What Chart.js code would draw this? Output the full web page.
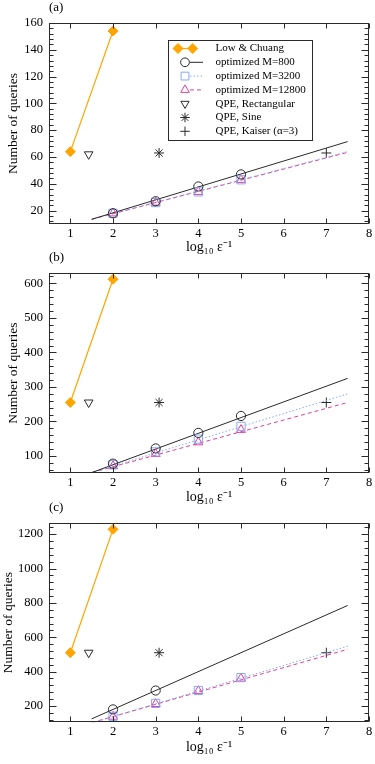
<!DOCTYPE html>
<html lang="en">
<head>
  <meta charset="UTF-8">
  <meta name="viewport" content="width=device-width, initial-scale=1.0">
  <title>Number of queries vs log10 1/eps</title>
  <script src="https://cdn.jsdelivr.net/npm/chart.js@4.4.0/dist/chart.umd.min.js"></script>
  <style>
    body { margin: 0; background: #fff; }
    #page { position: relative; width: 375px; height: 764px; overflow: hidden; }
    .panel { position: absolute; left: 0; width: 375px; height: 258px; }
  </style>
</head>
<body>
  <div id="page">
    <div class="panel" style="top:0"><canvas id="chartA" width="375" height="258"></canvas></div>
    <div class="panel" style="top:250px"><canvas id="chartB" width="375" height="258"></canvas></div>
    <div class="panel" style="top:500px"><canvas id="chartC" width="375" height="258"></canvas></div>
  </div>

  <script>
    const serif = '"Liberation Serif", "Times New Roman", serif';

    // x positions (log10 1/eps)
    const xLowChuang = [1, 2];
    const xOptimized = [2, 3, 4, 5];
    const xM800C = [2, 3];
    const xFit = [1.5, 7.5];
    const xRect = [1.43];
    const xSine = [3.08];
    const xKaiser = [7];
    const xTicks = [1, 2, 3, 4, 5, 6, 7, 8];

    // panel (a)
    const lowChuangA = [64, 154];
    const m800A = [18, 27, 38, 47];
    const m3200A = [18, 26, 34, 43];
    const m12800A = [18, 26, 34, 43];
    const fit800A = [13.5, 71.5];
    const fit3200A = [13.5, 64];
    const fit12800A = [13.5, 63.5];
    const rectA = [62];
    const sineA = [63];
    const kaiserA = [63];
    const yTicksA = [20, 40, 60, 80, 100, 120, 140, 160];

    // panel (b)
    const lowChuangB = [255, 612];
    const m800B = [78, 122, 167, 216];
    const m3200B = [75, 112, 149, 186];
    const m12800B = [71, 106, 140, 176];
    const fit800B = [52, 325];
    const fit3200B = [52, 280];
    const fit12800B = [52, 255];
    const rectB = [255];
    const sineB = [255];
    const kaiserB = [255];
    const yTicksB = [100, 200, 300, 400, 500, 600];

    // panel (c)
    const lowChuangC = [510, 1228];
    const m800C = [180, 290];
    const m3200C = [140, 215, 290, 365];
    const m12800C = [138, 212, 287, 360];
    const fit800C = [125, 785];
    const fit3200C = [100, 548];
    const fit12800C = [103, 530];
    const rectC = [510];
    const sineC = [510];
    const kaiserC = [510];
    const yTicksC = [200, 400, 600, 800, 1000, 1200];

    const legendLabels = ['Low & Chuang', 'optimized M=800', 'optimized M=3200', 'optimized M=12800',
      'QPE, Rectangular', 'QPE, Sine', 'QPE, Kaiser (\u03b1=3)'];

    const orange = '#ffa500';
    const blue = '#86aaf7';
    const pink = '#e0409c';
    const dark = '#2a2a2a';

    // marker / line styles for the seven legend entries
    const styles = [
      { pointStyle: 'rectRot', radius: 5, color: orange, fill: orange, line: { color: orange, width: 1.2, dash: [] } },
      { pointStyle: 'circle', radius: 4.6, color: dark, fill: 'transparent', line: { color: dark, width: 1, dash: [] } },
      { pointStyle: 'rect', radius: 5.8, color: blue, fill: 'transparent', line: { color: blue, width: 1, dash: [1.5, 2] } },
      { pointStyle: 'triangle', radius: 5.2, color: pink, fill: 'transparent', line: { color: pink, width: 1, dash: [4, 3] } },
      { pointStyle: 'triangle', rotation: 180, radius: 5, color: dark, fill: 'transparent' },
      { pointStyle: 'star', radius: 5, color: dark, fill: 'transparent' },
      { pointStyle: 'cross', radius: 5, color: dark, fill: 'transparent' }
    ];

    function pts(xs, ys) {
      return xs.map((x, i) => ({ x: x, y: ys[i] }));
    }

    function markers(xs, ys, s) {
      return {
        data: pts(xs, ys), showLine: false,
        pointStyle: s.pointStyle, pointRotation: s.rotation || 0, pointRadius: s.radius,
        pointBorderColor: s.color, pointBackgroundColor: s.fill, pointBorderWidth: 1
      };
    }

    function fitLine(ys, s) {
      return {
        data: pts(xFit, ys), showLine: true, pointRadius: 0,
        borderColor: s.line.color, borderWidth: s.line.width, borderDash: s.line.dash
      };
    }

    const panels = [
      {
        id: 'chartA', tag: '(a)', legend: true, yMin: 10, yMax: 160, yTicks: yTicksA, yMinor: 4,
        bottom: 224, titlePad: 5,
        lc: lowChuangA, xM800: xOptimized, m800: m800A, m3200: m3200A, m12800: m12800A,
        fit800: fit800A, fit3200: fit3200A, fit12800: fit12800A, rect: rectA, sine: sineA, kaiser: kaiserA
      },
      {
        id: 'chartB', tag: '(b)', legend: false, yMin: 50, yMax: 630, yTicks: yTicksB, yMinor: 20,
        bottom: 223.3, titlePad: 5,
        lc: lowChuangB, xM800: xOptimized, m800: m800B, m3200: m3200B, m12800: m12800B,
        fit800: fit800B, fit3200: fit3200B, fit12800: fit12800B, rect: rectB, sine: sineB, kaiser: kaiserB
      },
      {
        id: 'chartC', tag: '(c)', legend: false, yMin: 105, yMax: 1265, yTicks: yTicksC, yMinor: 40,
        bottom: 222.3, titlePad: 0.5,
        lc: lowChuangC, xM800: xM800C, m800: m800C, m3200: m3200C, m12800: m12800C,
        fit800: fit800C, fit3200: fit3200C, fit12800: fit12800C, rect: rectC, sine: sineC, kaiser: kaiserC
      }
    ];

    // frame with inward ticks on all four sides, panel tag and (optionally) the legend box
    const framePlugin = {
      id: 'framePlugin',
      afterDraw(chart, args, opts) {
        const { ctx, chartArea: a, scales: { x, y } } = chart;
        const L = Math.round(a.left) + 0.5, R = Math.round(a.right) - 0.5;
        const T = Math.round(a.top) + 0.5, B = Math.round(a.bottom) - 0.5;
        ctx.save();
        ctx.strokeStyle = dark;
        ctx.lineWidth = 1;
        ctx.beginPath();
        xTicks.forEach(v => {
          const px = Math.round(x.getPixelForValue(v)) + 0.5;
          ctx.moveTo(px, B); ctx.lineTo(px, B - 5);
          ctx.moveTo(px, T); ctx.lineTo(px, T + 5);
        });
        for (let v = Math.ceil(opts.yMin / opts.yMinor) * opts.yMinor; v <= opts.yMax; v += opts.yMinor) {
          const py = Math.round(y.getPixelForValue(v)) + 0.5;
          const len = opts.yTicks.includes(v) ? 7 : 4;
          ctx.moveTo(L, py); ctx.lineTo(L + len, py);
          ctx.moveTo(R, py); ctx.lineTo(R - len, py);
        }
        ctx.stroke();
        ctx.strokeRect(L, T, R - L, B - T);

        ctx.fillStyle = '#000';
        ctx.font = '13px ' + serif;
        ctx.textBaseline = 'middle';
        ctx.textAlign = 'left';
        ctx.fillText(opts.tag, a.left, 8);

        if (opts.legend) drawLegend(ctx);
        ctx.restore();
      }
    };

    function drawLegend(ctx) {
      const boxL = 168.5, boxT = 40.5, boxW = 144, boxH = 100;
      ctx.fillStyle = '#fff';
      ctx.fillRect(boxL, boxT, boxW, boxH);
      ctx.strokeStyle = dark;
      ctx.lineWidth = 1;
      ctx.strokeRect(boxL, boxT, boxW, boxH);
      ctx.font = '11px ' + serif;
      ctx.textBaseline = 'middle';
      legendLabels.forEach((label, i) => {
        const s = styles[i];
        const ry = 48.5 + i * 13.8;
        ctx.setLineDash([]);
        if (i === 0) {
          ctx.strokeStyle = s.line.color;
          ctx.lineWidth = s.line.width;
          ctx.beginPath(); ctx.moveTo(178, ry); ctx.lineTo(192.7, ry); ctx.stroke();
          [178, 192.7].forEach(px => {
            ctx.fillStyle = s.fill; ctx.strokeStyle = s.color; ctx.lineWidth = 1;
            Chart.helpers.drawPoint(ctx, { pointStyle: s.pointStyle, radius: s.radius, rotation: 0, borderWidth: 1 }, px, ry);
          });
        } else {
          if (s.line) {
            ctx.strokeStyle = s.line.color;
            ctx.lineWidth = s.line.width;
            ctx.setLineDash(s.line.dash);
            ctx.beginPath(); ctx.moveTo(190, ry); ctx.lineTo(203, ry); ctx.stroke();
            ctx.setLineDash([]);
          }
          ctx.fillStyle = s.fill; ctx.strokeStyle = s.color; ctx.lineWidth = 1;
          Chart.helpers.drawPoint(ctx, { pointStyle: s.pointStyle, radius: s.radius * 0.95, rotation: s.rotation || 0, borderWidth: 1 }, 185, ry);
        }
        ctx.fillStyle = '#000';
        ctx.fillText(label, 215.5, ry);
      });
    }

    panels.forEach(p => {
      const H = 258;
      const datasets = [
        Object.assign(markers(xLowChuang, p.lc, styles[0]), {
          showLine: true, borderColor: orange, borderWidth: styles[0].line.width
        }),
        markers(p.xM800, p.m800, styles[1]),
        markers(xOptimized, p.m3200, styles[2]),
        markers(xOptimized, p.m12800, styles[3]),
        fitLine(p.fit800, styles[1]),
        fitLine(p.fit3200, styles[2]),
        fitLine(p.fit12800, styles[3]),
        markers(xRect, p.rect, styles[4]),
        markers(xSine, p.sine, styles[5]),
        markers(xKaiser, p.kaiser, styles[6])
      ];

      new Chart(document.getElementById(p.id), {
        type: 'scatter',
        data: { datasets: datasets },
        options: {
          responsive: false,
          animation: false,
          events: [],
          layout: { autoPadding: false, padding: { top: 23, right: 6, bottom: 0, left: 0 } },
          plugins: {
            legend: { display: false },
            tooltip: { enabled: false },
            framePlugin: { tag: p.tag, legend: p.legend, yMin: p.yMin, yMax: p.yMax, yTicks: p.yTicks, yMinor: p.yMinor }
          },
          scales: {
            x: {
              type: 'linear', min: 0.5, max: 8,
              afterBuildTicks: s => { s.ticks = xTicks.map(v => ({ value: v })); },
              afterFit: s => { s.height = H - p.bottom; s.paddingLeft = 0; s.paddingRight = 0; },
              grid: { display: false, drawTicks: false },
              border: { display: false },
              ticks: {
                color: '#000', font: { family: serif, size: 12.5 }, padding: 2, maxRotation: 0, autoSkip: false,
                callback: v => String(v)
              },
              title: {
                display: true, text: 'log\u2081\u2080 \u03b5\u207b\u00b9', color: '#000',
                font: { family: serif, size: 14 }, padding: { top: 0, bottom: 2 }
              }
            },
            y: {
              type: 'linear', min: p.yMin, max: p.yMax,
              afterBuildTicks: s => { s.ticks = p.yTicks.map(v => ({ value: v })); },
              afterFit: s => { s.width = 49; s.paddingTop = 0; s.paddingBottom = 0; },
              grid: { display: false, drawTicks: false },
              border: { display: false },
              ticks: {
                color: '#000', font: { family: serif, size: 12.5 }, padding: 6, autoSkip: false,
                callback: v => String(v)
              },
              title: {
                display: true, text: 'Number of queries', color: '#000',
                font: { family: serif, size: 13.5 }, padding: { top: p.titlePad, bottom: 0 }
              }
            }
          }
        },
        plugins: [framePlugin]
      });
    });
  </script>
</body>
</html>
